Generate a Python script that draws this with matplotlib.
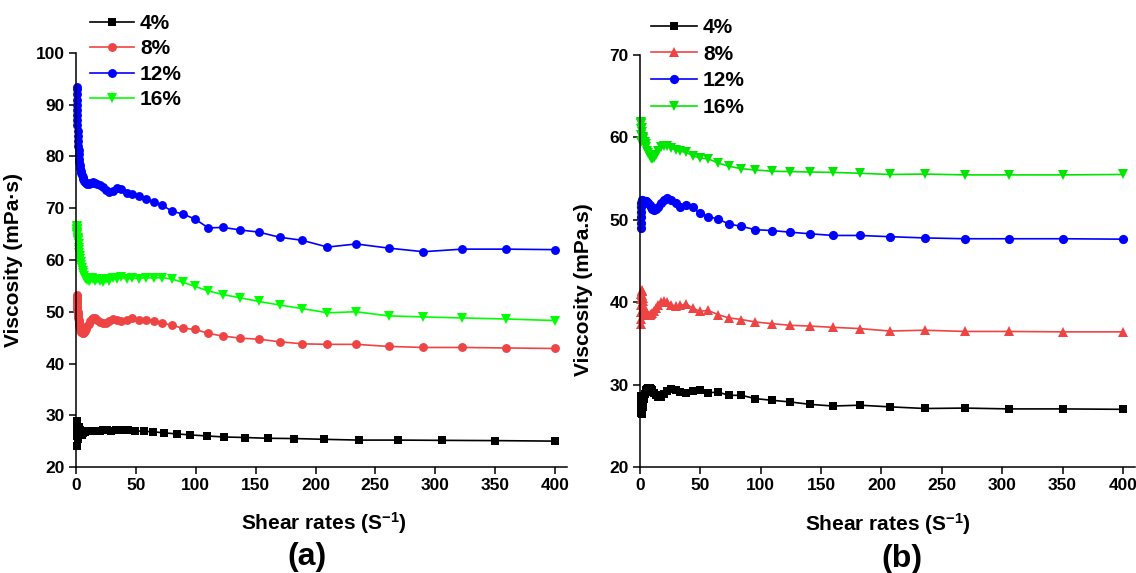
import matplotlib
matplotlib.use("Agg")
import matplotlib.pyplot as plt

plt.rcParams['font.family'] = ['Liberation Sans', 'DejaVu Sans']
plt.rcParams['font.weight'] = 'bold'
plt.rcParams['mathtext.fontset'] = 'custom'
plt.rcParams['mathtext.rm'] = 'Liberation Sans:bold'
plt.rcParams['mathtext.bf'] = 'Liberation Sans:bold'
plt.rcParams['mathtext.it'] = 'Liberation Sans:bold'

# ---------------- data ----------------
labels = ["4%", "8%", "12%", "16%"]

# shear-rate grid (fine spacing) used by 8/12/16 % in panel (a)
x_fine = [0.52, 0.58, 0.65, 0.72, 0.8, 0.9, 1.0, 1.1, 1.23, 1.37, 1.53, 1.7, 1.9, 2.1,
          2.35, 2.6, 2.9, 3.2, 3.6, 4.0, 4.45, 4.95, 5.5, 6.1, 6.8, 7.6, 8.5, 9.4, 10.5,
          11.7, 13.0, 14.5, 16.1, 17.9, 19.9, 22.2, 24.7, 27.5, 30.6, 34.1, 37.9, 42.2,
          47.0, 52.3, 58.2, 64.8, 72.1, 80.2, 89.3, 99.4, 110.6, 123.1, 137, 152.5, 170,
          189, 210, 234, 261, 290, 322.5, 359, 400]

# shear-rate grid (coarser spacing) used by 4 % in (a) and all series in (b)
x_coarse = [0.5, 0.6, 0.7, 0.8, 0.95, 1.1, 1.25, 1.4, 1.6, 1.9, 2.1, 2.4, 2.8, 3.2, 3.6,
            4.1, 4.7, 5.3, 6.1, 6.9, 7.9, 9.0, 10.3, 11.8, 13.4, 15.3, 17.5, 20.0, 22.5,
            26.0, 29.5, 33.5, 38.0, 43.5, 49.5, 56.5, 64.5, 73.5, 84.0, 95.5, 109, 124,
            141, 160, 182, 207, 236, 269, 306, 350, 400]

# panel (a)
a_4 = [24.0, 26.0, 27.8, 28.8, 28.3, 27.2, 26.0, 25.4, 25.6, 26.4, 27.2, 27.7, 27.6, 27.1,
       26.6, 26.3, 26.2, 26.3, 26.5, 26.7, 26.8, 26.9, 27.0, 27.0, 26.9, 26.9, 27.0, 27.0,
       27.1, 27.1, 27.0, 27.1, 27.2, 27.1, 27.0, 26.9, 26.8, 26.6, 26.4, 26.2, 26.0, 25.8,
       25.7, 25.55, 25.5, 25.35, 25.2, 25.2, 25.15, 25.1, 25.0]
a_8 = [53.3, 53.0, 52.7, 52.4, 52.0, 51.6, 51.2, 50.8, 50.4, 50.0, 49.6, 49.2, 48.8, 48.4,
       48.0, 47.6, 47.2, 46.9, 46.6, 46.3, 46.1, 46.0, 45.9, 45.9, 46.0, 46.3, 46.7, 47.2,
       47.7, 48.2, 48.6, 48.8, 48.8, 48.5, 48.1, 47.8, 47.9, 48.3, 48.6, 48.5, 48.3, 48.5,
       48.7, 48.5, 48.4, 48.3, 47.8, 47.4, 46.8, 46.6, 45.8, 45.3, 44.9, 44.7, 44.2, 43.8,
       43.7, 43.7, 43.3, 43.1, 43.1, 43.0, 42.9]
a_12 = [93.5, 93.0, 92.0, 91.0, 90.0, 89.0, 88.0, 87.0, 86.0, 85.0, 84.0, 83.0, 82.0, 81.2,
        80.4, 79.6, 78.9, 78.3, 77.7, 77.2, 76.8, 76.4, 76.0, 75.6, 75.3, 75.0, 74.8, 74.7,
        74.7, 74.8, 74.9, 75.0, 74.9, 74.7, 74.5, 74.1, 73.6, 73.2, 73.4, 74.0, 73.8, 73.0,
        72.8, 72.4, 71.7, 71.2, 70.6, 69.4, 68.9, 67.9, 66.2, 66.3, 65.8, 65.4, 64.4, 63.8,
        62.5, 63.1, 62.3, 61.6, 62.1, 62.1, 62.0]
a_16 = [66.0, 66.5, 66.3, 65.8, 65.5, 65.8, 65.2, 64.8, 65.0, 64.3, 64.0, 63.6, 63.8, 63.0,
        62.4, 62.0, 61.4, 60.8, 60.2, 59.6, 59.0, 58.4, 57.9, 57.4, 57.0, 56.6, 56.3, 56.1,
        56.0, 56.2, 56.6, 56.3, 56.0, 56.3, 56.0, 55.8, 56.3, 56.0, 56.6, 56.4, 56.7, 56.3,
        56.5, 56.4, 56.6, 56.5, 56.6, 56.3, 55.7, 54.9, 54.0, 53.3, 52.7, 52.0, 51.3, 50.6,
        49.8, 50.0, 49.2, 49.0, 48.8, 48.6, 48.3]

# panel (b)
b_4 = [28.6, 28.0, 27.4, 27.0, 26.7, 26.5, 26.4, 26.5, 26.7, 27.0, 27.3, 27.6, 28.0, 28.3,
       28.6, 28.9, 29.1, 29.3, 29.5, 29.6, 29.6, 29.5, 29.3, 29.0, 28.7, 28.5, 28.5, 28.8,
       29.2, 29.5, 29.4, 29.1, 29.0, 29.2, 29.3, 29.0, 29.1, 28.7, 28.7, 28.3, 28.1, 27.9,
       27.6, 27.4, 27.5, 27.3, 27.1, 27.15, 27.05, 27.05, 27.0]
b_8 = [37.3, 38.0, 38.8, 39.6, 40.4, 41.0, 41.4, 41.5, 41.3, 40.9, 40.5, 40.1, 39.7, 39.4,
       39.1, 38.9, 38.7, 38.6, 38.5, 38.5, 38.5, 38.6, 38.7, 38.9, 39.3, 39.7, 40.0, 40.1,
       40.0, 39.7, 39.5, 39.6, 39.8, 39.3, 38.9, 39.0, 38.5, 38.1, 37.9, 37.6, 37.4, 37.2,
       37.1, 36.95, 36.8, 36.5, 36.6, 36.45, 36.45, 36.4, 36.4]
b_12 = [49.0, 49.6, 50.3, 51.0, 51.6, 52.0, 52.3, 52.4, 52.4, 52.3, 52.2, 52.1, 52.0, 52.0,
        52.1, 52.2, 52.3, 52.3, 52.2, 52.0, 51.8, 51.5, 51.3, 51.2, 51.3, 51.6, 52.0, 52.4,
        52.6, 52.4, 52.0, 51.6, 51.8, 51.5, 50.8, 50.4, 50.1, 49.5, 49.2, 48.8, 48.7, 48.5,
        48.3, 48.1, 48.1, 47.95, 47.8, 47.7, 47.7, 47.7, 47.65]
b_16 = [59.5, 60.3, 61.0, 61.6, 61.9, 61.7, 61.2, 60.6, 60.0, 59.6, 59.8, 60.0, 59.9, 59.5,
        59.4, 59.5, 59.2, 58.8, 58.4, 58.1, 57.8, 57.5, 57.4, 57.5, 57.9, 58.4, 58.8, 59.0,
        58.9, 58.7, 58.5, 58.3, 58.2, 57.8, 57.5, 57.4, 56.9, 56.5, 56.2, 56.05, 55.9, 55.85,
        55.8, 55.75, 55.65, 55.5, 55.55, 55.45, 55.45, 55.45, 55.5]

x_ticks = [0, 50, 100, 150, 200, 250, 300, 350, 400]
a_yticks = [20, 30, 40, 50, 60, 70, 80, 90, 100]
b_yticks = [20, 30, 40, 50, 60, 70]

# ---------------- figure ----------------
fig = plt.figure(figsize=(11.36, 5.73), dpi=100)
W, H = 1136, 573

def axes_from_px(x0, x1, ytop, ybot):
    return fig.add_axes([x0 / W, 1 - ybot / H, (x1 - x0) / W, (ybot - ytop) / H])

axA = axes_from_px(76, 567, 53, 467)
axB = axes_from_px(640, 1135, 55, 467)

red = '#EF4444'
lw = 1.2

series_a = [
    (x_coarse, a_4, 'k', 's', 5.4),
    (x_fine, a_8, red, 'o', 6.4),
    (x_fine, a_12, '#0000FF', 'o', 6.4),
    (x_fine, a_16, '#00FF00', 'v', 7.2),
]
series_b = [
    (x_coarse, b_4, 'k', 's', 5.4),
    (x_coarse, b_8, red, '^', 7.2),
    (x_coarse, b_12, '#0000FF', 'o', 6.6),
    (x_coarse, b_16, '#00E600', 'v', 7.2),
]

def style(ax, yticks, ylim, ylabel):
    for s in ['top', 'right']:
        ax.spines[s].set_visible(False)
    for s in ['left', 'bottom']:
        ax.spines[s].set_linewidth(1.1)
    ax.set_xlim(0, 410)
    ax.set_ylim(*ylim)
    ax.set_xticks(x_ticks)
    ax.set_yticks(yticks)
    ax.tick_params(direction='out', length=5, width=1.1, labelsize=12.5, pad=3)
    for t in ax.get_xticklabels() + ax.get_yticklabels():
        t.set_fontweight('bold')
    ax.set_xlabel(r'Shear rates (S$^{-1}$)', fontsize=15, fontweight='bold')
    ax.set_ylabel(ylabel, fontsize=15, fontweight='bold')

handlesA = []
for (xs, ys, c, m, ms), lab in zip(series_a, labels):
    h, = axA.plot(xs, ys, color=c, marker=m, markersize=ms, linewidth=lw,
                  markeredgewidth=0, label=lab, clip_on=False)
    handlesA.append(h)
handlesB = []
for (xs, ys, c, m, ms), lab in zip(series_b, labels):
    h, = axB.plot(xs, ys, color=c, marker=m, markersize=ms, linewidth=lw,
                  markeredgewidth=0, label=lab, clip_on=False)
    handlesB.append(h)

style(axA, a_yticks, (20, 100), 'Viscosity (mPa·s)')
style(axB, b_yticks, (20, 70), 'Viscosity (mPa.s)')

axA.xaxis.set_label_coords(0.505, -0.105)
axA.yaxis.set_label_coords(-0.108, 0.5)
axB.xaxis.set_label_coords(0.5, -0.108)
axB.yaxis.set_label_coords(-0.095, 0.43)

legA = fig.legend(handles=handlesA, loc='upper left', bbox_to_anchor=(90 / W, 1 - 14 / H),
                  frameon=False, handlelength=2.1, handletextpad=0.3,
                  labelspacing=0.31, borderpad=0, borderaxespad=0,
                  prop={'weight': 'bold', 'size': 15})
legB = fig.legend(handles=handlesB, loc='upper left', bbox_to_anchor=(651 / W, 1 - 18 / H),
                  frameon=False, handlelength=2.2, handletextpad=0.3,
                  labelspacing=0.37, borderpad=0, borderaxespad=0,
                  prop={'weight': 'bold', 'size': 15})

fig.text(307 / W, 1 - 557 / H, '(a)', fontsize=23, fontweight='bold', ha='center', va='center')
fig.text(902 / W, 1 - 559 / H, '(b)', fontsize=23, fontweight='bold', ha='center', va='center')

fig.savefig('out.png', dpi=100)
